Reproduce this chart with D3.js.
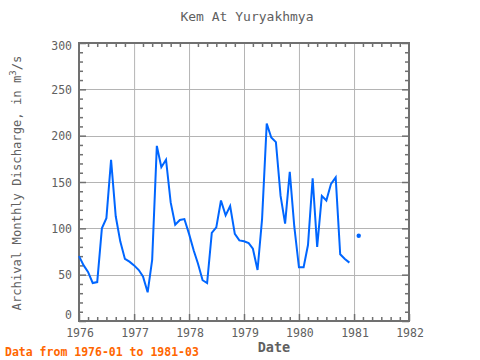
<!DOCTYPE html>
<html>
<head>
<meta charset="utf-8">
<script src="https://cdn.jsdelivr.net/npm/d3@7"></script>
<style>
  html, body { margin: 0; padding: 0; background: #ffffff; }
  svg { display: block; }
  text { font-family: "DejaVu Sans Mono", "Liberation Mono", monospace; }
</style>
</head>
<body>
<svg id="chart" width="480" height="360"></svg>
<script>
// ---- data (monthly discharge, m3/s) ----
const title = "Kem At Yuryakhmya";
const xLabel = "Date";
const yLabel = "Archival Monthly Discharge, in m";
const noteText = "Data from 1976-01 to 1981-03";
const startMonth = "1976-01";
const values1976 = [70, 60, 53, 41, 42, 100, 111, 174, 113, 86, 67, 64];
const values1977 = [60, 55, 48, 31, 66, 189, 166, 174, 128, 104, 109, 110];
const values1978 = [94, 76, 62, 44, 41, 95, 101, 130, 114, 124, 94, 87];
const values1979 = [86, 84, 78, 55, 110, 213, 198, 193, 135, 105, 161, 102];
const values1980 = [58, 58, 82, 154, 80, 135, 130, 148, 155, 72, 67, 63];
const values1981 = [null, 92, null];
const yearTicks = [1976, 1977, 1978, 1979, 1980, 1981, 1982];
const yTicks = [0, 50, 100, 150, 200, 250, 300];

// ---- layout ----
const W = 480, H = 360;
const L = 79, R = 409, T = 43, B = 321;
const axisColor = "#707070";
const gridColor = "#b4b4b4";
const textColor = "#606060";
const lineColor = "#0066ff";

const allValues = [].concat(values1976, values1977, values1978, values1979, values1980, values1981);
const t0 = d3.utcParse("%Y-%m")(startMonth);
const data = allValues.map((v, i) => ({ date: d3.utcMonth.offset(t0, i), v: v }));

const x = d3.scaleUtc()
  .domain([new Date(Date.UTC(yearTicks[0], 0, 1)), new Date(Date.UTC(yearTicks[yearTicks.length - 1], 0, 1))])
  .range([L, R]);
const y = d3.scaleLinear().domain([0, 300]).range([B, T]);

const svg = d3.select("#chart");

// grid
const yearDates = yearTicks.map(yr => new Date(Date.UTC(yr, 0, 1)));
svg.append("g").selectAll("line").data(yearDates.slice(1, -1)).join("line")
  .attr("x1", d => x(d) + 0.5).attr("x2", d => x(d) + 0.5)
  .attr("y1", T).attr("y2", B)
  .attr("stroke", gridColor).attr("stroke-width", 1);
svg.append("g").selectAll("line").data(yTicks.slice(1, -1)).join("line")
  .attr("x1", L).attr("x2", R)
  .attr("y1", d => Math.round(y(d)) + 0.5).attr("y2", d => Math.round(y(d)) + 0.5)
  .attr("stroke", gridColor).attr("stroke-width", 1);

// axes via d3 axis generators (ticks inside)
const minorX = d3.utcMonth.every(2).range(x.domain()[0], x.domain()[1]).filter(d => d.getUTCMonth() !== 0);
const minorY = d3.range(0, 301, 10).filter(v => v % 50 !== 0);

function styleAxis(g) {
  g.selectAll("path").remove();
  g.selectAll("line").attr("stroke", axisColor).attr("stroke-width", 1.5);
  g.selectAll("text").remove();
}
// bottom
svg.append("g").attr("transform", `translate(0,${B})`)
  .call(d3.axisTop(x).tickValues(minorX).tickSize(4)).call(styleAxis);
svg.append("g").attr("transform", `translate(0,${B})`)
  .call(d3.axisTop(x).tickValues(yearDates).tickSize(7)).call(styleAxis);
// top
svg.append("g").attr("transform", `translate(0,${T})`)
  .call(d3.axisBottom(x).tickValues(minorX).tickSize(4)).call(styleAxis);
// left
svg.append("g").attr("transform", `translate(${L},0)`)
  .call(d3.axisRight(y).tickValues(minorY).tickSize(4)).call(styleAxis);
svg.append("g").attr("transform", `translate(${L},0)`)
  .call(d3.axisRight(y).tickValues(yTicks).tickSize(7)).call(styleAxis);
// right
svg.append("g").attr("transform", `translate(${R},0)`)
  .call(d3.axisLeft(y).tickValues(minorY).tickSize(4)).call(styleAxis);
svg.append("g").attr("transform", `translate(${R},0)`)
  .call(d3.axisLeft(y).tickValues(yTicks).tickSize(7)).call(styleAxis);

// frame
svg.append("rect").attr("x", L).attr("y", T).attr("width", R - L).attr("height", B - T)
  .attr("fill", "none").attr("stroke", axisColor).attr("stroke-width", 2);

// tick labels
svg.append("g").selectAll("text").data(yearDates).join("text")
  .attr("x", d => x(d) + 1).attr("y", 337)
  .attr("text-anchor", "middle").attr("font-size", 11.5).attr("fill", textColor)
  .text(d => d.getUTCFullYear());
svg.append("g").selectAll("text").data(yTicks).join("text")
  .attr("x", 72)
  .attr("y", d => Math.min(Math.max(y(d) + 4.5, T + 7), B - 2))
  .attr("text-anchor", "end").attr("font-size", 11.5).attr("fill", textColor)
  .text(d => d);

// data line
const line = d3.line()
  .defined(d => d.v != null)
  .x(d => x(d.date)).y(d => y(d.v));
svg.append("path").datum(data)
  .attr("d", line).attr("fill", "none")
  .attr("stroke", lineColor).attr("stroke-width", 2).attr("stroke-linejoin", "miter");
// isolated points
const isolated = data.filter((d, i) => d.v != null &&
  (i === 0 || data[i - 1].v == null) && (i === data.length - 1 || data[i + 1].v == null));
svg.append("g").selectAll("circle").data(isolated).join("circle")
  .attr("cx", d => x(d.date)).attr("cy", d => y(d.v)).attr("r", 2.2)
  .attr("fill", lineColor);

// titles
svg.append("text").attr("x", 247).attr("y", 21)
  .attr("text-anchor", "middle").attr("font-size", 13).attr("fill", textColor)
  .text(title);
svg.append("text").attr("x", 274).attr("y", 352)
  .attr("text-anchor", "middle").attr("font-size", 13.5).attr("font-weight", "bold").attr("fill", textColor)
  .text(xLabel);
const yl = svg.append("text")
  .attr("transform", `translate(21,${(T + B) / 2 + 1}) rotate(-90)`)
  .attr("text-anchor", "middle").attr("font-size", 12.2).attr("fill", textColor);
yl.append("tspan").text(yLabel);
yl.append("tspan").attr("font-size", 9).attr("dy", -5).text("3");
yl.append("tspan").attr("dy", 5).text("/s");
svg.append("text").attr("x", 5).attr("y", 356)
  .attr("font-size", 11.5).attr("font-weight", "bold").attr("fill", "#ff6600")
  .text(noteText);
</script>
</body>
</html>
